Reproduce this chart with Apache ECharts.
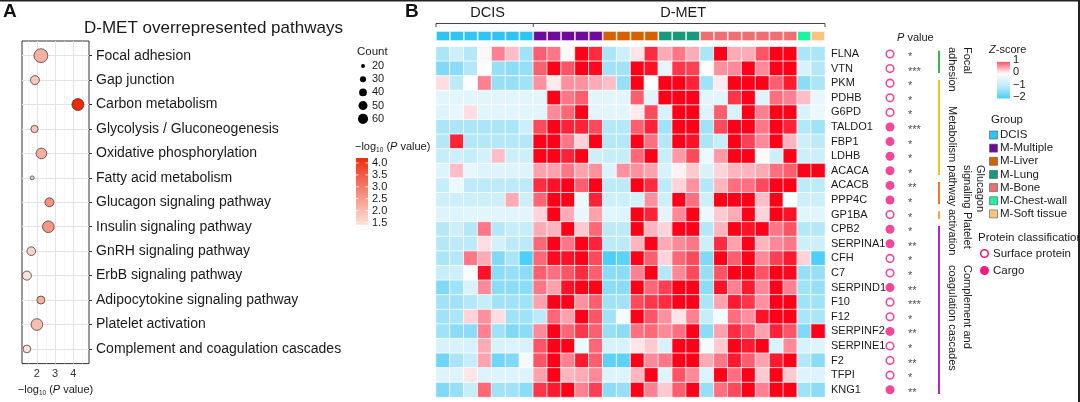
<!DOCTYPE html>
<html><head><meta charset="utf-8">
<script src="https://cdn.jsdelivr.net/npm/echarts@6/dist/echarts.min.js"></script>
<style>html,body{margin:0;padding:0;background:#fff}#c{width:1080px;height:402px}</style>
</head><body><div id="c"></div>
<script>
// ---------- Panel A data ----------
const pathways = ['Focal adhesion','Gap junction','Carbon metabolism','Glycolysis / Gluconeogenesis','Oxidative phosphorylation','Fatty acid metabolism','Glucagon signaling pathway','Insulin signaling pathway','GnRH signaling pathway','ErbB signaling pathway','Adipocytokine signaling pathway','Platelet activation','Complement and coagulation cascades'];
const pathLogP = [2.22,1.89,4.26,1.87,2.25,1.74,2.69,2.63,1.69,1.45,2.22,2.0,1.45];
const pathCount = [100,50,78,37,65,20,50,75,47,50,42,75,40];
const countBreaks = [20,30,40,50,60];
const logPBreaks = [4.0,3.5,3.0,2.5,2.0,1.5];
const xTicksA = [2,3,4];
const xGridMajor = [2,3,4];
const xGridMinor = [1.5,2.5,3.5,4.5];

// ---------- Panel B data ----------
const genes = ['FLNA','VTN','PKM','PDHB','G6PD','TALDO1','FBP1','LDHB','ACACA','ACACB','PPP4C','GP1BA','CPB2','SERPINA1','CFH','C7','SERPIND1','F10','F12','SERPINF2','SERPINE1','F2','TFPI','KNG1'];
const groupNames = ['DCIS','M-Multiple','M-Liver','M-Lung','M-Bone','M-Chest-wall','M-Soft tissue'];
const groupColors = ['#2EC4F5','#6E0A9C','#D66100','#18997A','#EF6E71','#1FF2A2','#FDC27D'];
const groupSizes = [7,5,4,3,7,1,1];
const proteinClass = ['S','S','S','S','S','C','C','C','C','C','C','S','C','C','S','S','C','S','S','C','S','S','S','C'];
const pStars = ['*','***','*','*','*','***','*','*','*','**','*','*','*','**','*','*','**','***','*','**','*','**','*','**'];
const zTicks = [1,0,-1,-2];
const annotNames = [['Focal','adhesion'],['Metabolism pathway'],['Glucagon','signaling'],['Platelet','activation'],['Complement and','coagulation cascades']];
const annotStart = [0,2,9,11,12];
const annotEnd = [1,8,10,11,23];
const annotColors = ['#3DB54A','#F6C21B','#F07A29','#F7A04A','#A52BC4'];
const zRows = [
 [-1.3,-0.9,-1.2,-0.1,0.6,0.25,-1.4, 0.8,0.65,-0.1,1.3,1.05, -1.3,-0.9,0.05,1.05, 0.35,0.65,0.35, -1.3,1.3,0.35,0.35,0.85,1.3,1.3, -1.3,-1.3],
 [-1.7,-1.6,-1.2,-0.15,-1.5,-1.6,-1.5, 0.8,1.3,0.85,1.3,1.25, -1.4,-1.4,1.3,1.2, -0.5,1.0,0.95, -0.15,0.5,0.55,1.3,0.55,1.3,1.3, -0.7,-1.2],
 [0.1,-1.1,-0.2,0.6,-1.5,-1.5,-1.4, 0.5,0.0,0.5,0.5,0.35, 0.25,-1.5,1.3,-0.2, 1.3,1.3,1.1, -1.4,0.0,1.3,1.3,1.3,0.8,1.15, -1.6,-1.3],
 [-0.5,-0.5,-0.5,-0.5,-0.5,-0.5,-0.5, -0.5,1.3,0.65,0.8,-0.5, -0.5,-0.5,0.8,-0.5, 1.3,1.3,1.3, -0.55,-0.5,1.0,1.3,-0.6,0.7,0.6, 0.25,-0.45],
 [-0.6,-0.45,0.1,-0.55,-0.5,-0.5,-0.55, -0.55,0.55,0.75,1.3,-0.5, -0.5,-0.5,0.0,0.9, -0.7,1.3,1.3, -0.6,0.8,-0.75,1.3,0.6,1.3,1.3, -0.7,-0.4],
 [-1.3,-1.3,-1.3,-1.3,-1.3,-1.3,-0.9, 0.9,1.3,1.1,1.1,0.9, -1.2,-1.2,0.8,1.1, -1.4,1.3,1.3, -1.4,0.9,1.3,1.3,0.65,1.3,1.1, -1.2,-1.4],
 [-1.2,1.1,-1.2,-1.2,-1.2,-1.2,-1.2, 1.3,1.3,0.65,0.15,1.3, -1.2,-1.2,1.3,0.7, -1.2,1.3,1.2, -1.3,-1.0,1.3,0.95,0.55,1.3,0.3, -0.9,-1.1],
 [-1.0,-0.9,-1.0,-0.8,0.25,-0.9,-0.9, 1.3,1.3,1.1,1.3,-0.9, -1.0,-1.0,0.75,1.3, -1.0,0.45,0.9, -0.4,0.45,1.3,1.3,-0.1,-0.9,1.3, -0.9,-0.9],
 [-0.6,0.25,-0.45,-0.6,-0.6,-0.6,-0.6, 0.4,0.4,0.65,0.4,0.5, -0.6,0.5,0.5,0.4, -0.7,-0.05,0.2, -0.7,0.15,0.3,0.3,0.35,0.7,0.8, 1.3,1.3],
 [-1.0,-0.4,-1.1,-1.1,-1.1,-1.1,-1.1, 1.05,1.2,1.3,0.8,1.3, -1.1,-1.1,1.3,1.05, -1.1,0.15,0.5, -1.2,0.3,0.7,0.7,0.9,1.3,1.3, -1.1,-1.1],
 [-0.9,-0.9,-0.9,-0.9,-0.9,0.35,-0.9, 0.75,1.3,1.3,-0.4,1.1, -0.9,-0.9,-0.8,0.5, -0.9,1.3,0.7, -0.9,1.3,1.3,1.3,0.25,1.3,-0.2, -0.9,-0.9],
 [-0.6,-0.6,-0.55,-0.55,-0.55,-0.55,-0.5, 0.15,1.3,0.35,-0.45,0.4, -0.55,-0.6,1.3,1.1, -0.5,0.55,1.3, -0.4,0.2,0.35,1.3,0.15,1.3,1.2, -0.55,-0.55],
 [-1.2,-0.9,-1.2,0.65,-1.2,-1.0,-1.0, 0.35,0.3,1.3,0.2,0.75, -1.1,-1.1,1.3,0.3, 0.15,1.3,1.3, -1.2,0.3,1.3,1.2,1.3,0.65,0.85, -1.2,-1.2],
 [-1.2,-1.1,-1.1,0.1,-0.8,-1.1,-1.1, 0.75,1.3,0.65,1.3,1.1, -1.1,-1.1,0.3,1.3, 0.35,0.55,0.65, -0.9,1.05,0.4,1.3,0.3,0.55,0.65, -0.9,-0.9],
 [-1.3,-1.2,0.65,0.35,-1.7,-1.3,-2.1, 0.75,1.25,1.2,1.3,0.9, -2.0,-1.9,1.3,0.8, 0.15,0.75,0.9, -1.7,1.3,0.8,1.3,0.55,0.95,1.15, 0.15,-2.0],
 [-1.0,-0.9,-0.2,1.2,-1.6,-1.5,-1.6, 0.8,0.7,0.85,1.05,0.8, -1.6,-1.6,0.6,1.3, -1.2,0.55,0.9, -1.5,0.85,1.3,1.3,0.85,1.3,1.25, -1.5,-1.5],
 [-1.7,-1.4,-0.7,0.55,-1.6,-1.6,-1.6, 0.65,0.4,1.2,1.3,1.3, -1.6,-1.6,1.3,0.75, 0.95,1.3,1.3, -1.6,1.2,0.6,1.15,0.55,1.3,0.6, -1.4,-1.5],
 [-1.4,-1.4,-1.2,-1.0,-1.4,-1.4,-1.4, 0.4,1.3,1.3,0.5,0.8, -1.4,-1.4,0.9,1.0, 1.05,1.3,1.3, -1.3,0.4,1.15,1.0,0.5,1.3,1.3, -1.4,-1.4],
 [-1.4,-1.3,0.15,0.5,0.1,-1.4,-1.4, -1.1,0.75,0.4,1.3,0.85, -1.4,-0.3,1.3,0.85, 0.5,0.05,0.6, -1.0,-0.3,0.7,0.5,1.2,1.3,1.3, -1.3,-1.3],
 [-1.4,-1.6,-1.6,0.6,-1.4,-1.7,-1.6, 0.55,1.3,0.75,1.0,0.8, -1.5,-1.6,0.7,0.75, 0.55,0.7,1.3, -1.6,0.4,1.05,0.85,0.4,1.1,0.85, -1.7,1.3],
 [-0.7,-0.7,-0.7,0.35,-0.7,-0.65,-0.7, 0.85,1.3,1.3,-0.4,0.75, -0.7,-0.7,0.05,0.2, -0.7,1.3,1.3, -0.3,0.2,1.3,1.15,1.3,-0.65,0.55, -0.7,-0.6],
 [-1.8,-1.3,-1.0,0.4,-1.8,-1.7,-0.3, 0.85,1.3,0.6,1.15,0.8, -1.9,-1.9,1.3,0.55, 0.65,1.3,1.3, 0.35,0.65,1.15,0.8,0.4,1.15,1.3, -1.2,-1.6],
 [-0.6,-0.6,0.05,-0.65,-0.6,-0.6,-0.6, 0.4,1.3,0.3,0.35,0.55, -0.6,-0.6,0.3,1.3, -0.6,0.85,0.55, -0.65,1.3,0.7,1.3,0.2,1.3,0.2, -0.6,-0.6],
 [-1.7,-1.5,-1.0,0.75,-1.4,-1.4,-1.6, 1.0,1.15,1.3,0.6,0.95, -1.6,-1.5,1.3,0.6, 0.2,0.8,1.3, -1.5,0.7,0.9,1.3,0.6,1.3,1.3, -1.4,-1.6]
];

// ---------- helpers ----------
const FF = '"Liberation Sans", Arial, Helvetica, sans-serif';
const TXT = '#1a1a1a';
const zStops = [[-2,'#4CCFF8'],[-1.7,'#80D9F6'],[-1.3,'#ABE5F8'],[-0.9,'#CDEFFA'],[-0.5,'#E3F5FC'],[-0.15,'#FFFFFF'],[0.1,'#FFDDE2'],[0.35,'#FFAAB5'],[0.6,'#FF8090'],[0.85,'#FF5566'],[1.05,'#FF2A40'],[1.3,'#FF0018']];
function hex2rgb(h){return [parseInt(h.substr(1,2),16),parseInt(h.substr(3,2),16),parseInt(h.substr(5,2),16)];}
function rgb2hex(a){return '#'+a.map(v=>Math.round(v).toString(16).padStart(2,'0')).join('');}
function mix(c1,c2,t){const a=hex2rgb(c1),b=hex2rgb(c2);return rgb2hex(a.map((v,i)=>v+(b[i]-v)*t));}
function zColor(v){
  if(v<=zStops[0][0]) return zStops[0][1];
  for(let i=1;i<zStops.length;i++){ if(v<=zStops[i][0]){const t=(v-zStops[i-1][0])/(zStops[i][0]-zStops[i-1][0]);return mix(zStops[i-1][1],zStops[i][1],t);} }
  return zStops[zStops.length-1][1];
}
const zMin=-2, zMax=1.3;
const zPalette=[]; for(let k=0;k<=33;k++){zPalette.push(zColor(zMin+k*0.1));}
const aLow='#FDE2DA', aHigh='#EE2A0A', aMin=1.45, aMax=4.26;
function aColor(v){return mix(aLow,aHigh,Math.max(0,Math.min(1,(v-aMin)/(aMax-aMin))));}
function sizeFn(c){return Math.sqrt(2.2*(c-13));}

const samples=[]; const sampleGroups=[];
groupSizes.forEach((n,g)=>{for(let i=0;i<n;i++){samples.push('S'+(samples.length+1));sampleGroups.push(g);}});

// layout constants
const hmLeft=436, hmTop=46.7, hmW=389, rowH=14.6, hmH=rowH*genes.length;
const colW=hmW/samples.length;

const heatData=[];
zRows.forEach((row,r)=>row.forEach((v,c)=>heatData.push([c,r,v])));

function T(x,y,text,o){o=o||{};return {type:'text',x:x,y:y,rotation:o.rot||0,z:10,style:Object.assign({text:text,fill:TXT,fontSize:11,fontFamily:FF,align:'left',verticalAlign:'middle'},o.style||{})};}

const graphic=[];
graphic.push({type:'rect',shape:{x:0,y:0,width:1080,height:1.5},style:{fill:'#222'}});
graphic.push({type:'rect',shape:{x:1078,y:0,width:2,height:402},style:{fill:'#222'}});
graphic.push(T(3,12,'A',{style:{fontSize:19,fontWeight:'bold',fill:'#111'}}));
graphic.push(T(405,12,'B',{style:{fontSize:19,fontWeight:'bold',fill:'#111'}}));
graphic.push(T(84,28,'D-MET overrepresented pathways',{style:{fontSize:17}}));
// Count legend
graphic.push(T(357,52,'Count',{style:{fontSize:11.5}}));
countBreaks.forEach((c,i)=>{
  const y=66+i*13.2;
  graphic.push({type:'circle',shape:{cx:363,cy:y,r:sizeFn(c)/2},style:{fill:'#000'}});
  graphic.push(T(372,y,String(c),{style:{fontSize:11}}));
});
// -log10 P legend
const richA={n:{fontSize:11,fontFamily:FF,fill:TXT,lineHeight:14,verticalAlign:'middle'},s:{fontSize:6.5,fontFamily:FF,fill:TXT,lineHeight:8,verticalAlign:'bottom'},i:{fontSize:11,fontFamily:FF,fontStyle:'italic',fill:TXT,lineHeight:14,verticalAlign:'middle'}};
graphic.push({type:'text',x:355,y:147,z:10,style:{text:'{n|\u2212log}{s|10}{n| (}{i|P}{n| value)}',rich:richA,align:'left',verticalAlign:'middle'}});
const barTopV=4.21, barBotV=1.4, barTopY=158, pxPerUnit=23.8;
graphic.push({type:'rect',shape:{x:356,y:barTopY,width:12,height:(barTopV-barBotV)*pxPerUnit},style:{fill:new echarts.graphic.LinearGradient(0,0,0,1,[{offset:0,color:aColor(barTopV)},{offset:1,color:aColor(barBotV)}])}});
logPBreaks.forEach(v=>{
  const y=barTopY+(barTopV-v)*pxPerUnit;
  graphic.push({type:'line',shape:{x1:356,y1:y,x2:358.5,y2:y},style:{stroke:'#fff',lineWidth:0.8}});
  graphic.push({type:'line',shape:{x1:365.5,y1:y,x2:368,y2:y},style:{stroke:'#fff',lineWidth:0.8}});
  graphic.push(T(372,y,v.toFixed(1),{style:{fontSize:11}}));
});
// bracket DCIS / D-MET
const split=hmLeft+groupSizes[0]*colW, right=hmLeft+hmW;
graphic.push({type:'polyline',shape:{points:[[hmLeft,27],[hmLeft,23.5],[right,23.5],[right,27]]},style:{stroke:'#444',lineWidth:1,fill:null}});
graphic.push({type:'line',shape:{x1:split,y1:23.5,x2:split,y2:27},style:{stroke:'#444',lineWidth:1}});
graphic.push(T((hmLeft+split)/2+3,12.5,'DCIS',{style:{fontSize:14.5,align:'center'}}));
graphic.push(T((split+right)/2+4,12.5,'D-MET',{style:{fontSize:14.5,align:'center'}}));
// P value header
graphic.push({type:'text',x:897,y:38,z:10,style:{text:'{i|P}{n| value}',rich:richA,align:'left',verticalAlign:'middle'}});
// pathway annotation
const annotTextPos=[[[967,47],[952,47]],[[952,106]],[[980,165],[967,165]],[[967,212],[952,209]],[[967,265],[952,265]]];
annotNames.forEach((lines,k)=>{
  const y1=hmTop+annotStart[k]*rowH+4, y2=hmTop+(annotEnd[k]+1)*rowH-3;
  graphic.push({type:'line',shape:{x1:939,y1:y1,x2:939,y2:y2},style:{stroke:annotColors[k],lineWidth:2}});
  lines.forEach((t,j)=>{const p=annotTextPos[k][j];graphic.push(T(p[0],p[1],t,{rot:-Math.PI/2,style:{fontSize:11}}));});
});
// Z-score legend
graphic.push({type:'text',x:989,y:50,z:10,style:{text:'{i|Z}{n|-score}',rich:richA,align:'left',verticalAlign:'middle'}});
const zY=v=>60+(1-v)*12.4;
const zTopV=0.85, zBotV=-2.1, zStopsG=[];
for(let k=0;k<=12;k++){const v=zTopV+(zBotV-zTopV)*k/12;zStopsG.push({offset:k/12,color:zColor(v)});}
graphic.push({type:'rect',shape:{x:997,y:zY(zTopV),width:13,height:zY(zBotV)-zY(zTopV)},style:{fill:new echarts.graphic.LinearGradient(0,0,0,1,zStopsG)}});
zTicks.forEach(v=>graphic.push(T(1013,zY(v),v<0?'\u2212'+Math.abs(v):String(v),{style:{fontSize:11}})));
// Group legend
graphic.push(T(991,120,'Group',{style:{fontSize:11.5}}));
groupNames.forEach((g,i)=>{
  const y=135+i*13.15;
  graphic.push({type:'rect',shape:{x:989.5,y:y-4,width:8,height:8},style:{fill:groupColors[i],stroke:'#555',lineWidth:0.6}});
  graphic.push(T(1000,y,g,{style:{fontSize:11.5}}));
});
// Protein classification legend
graphic.push(T(978,238,'Protein classification',{style:{fontSize:11.5}}));
graphic.push({type:'circle',shape:{cx:984.5,cy:253.5,r:3.8},style:{fill:'#fff',stroke:'#F2197F',lineWidth:1.6}});
graphic.push(T(993,253.5,'Surface protein',{style:{fontSize:11.5}}));
graphic.push({type:'circle',shape:{cx:984.5,cy:270.5,r:4.5},style:{fill:'#F2197F'}});
graphic.push(T(993,270.5,'Cargo',{style:{fontSize:11.5}}));

const idxA=pathways.map((_,i)=>i);
const markData=[].concat(
  xGridMinor.map(x=>({xAxis:x,lineStyle:{color:'#F1F1F1',width:0.6,type:'solid'}})),
  xGridMajor.map(x=>({xAxis:x,lineStyle:{color:'#E4E4E4',width:1,type:'solid'}})),
  idxA.map(i=>({yAxis:i,lineStyle:{color:'#E4E4E4',width:1,type:'solid'}}))
);

const option={
  animation:false,
  backgroundColor:'#fff',
  textStyle:{fontFamily:FF},
  grid:[
    {left:22,top:41,width:67,height:323,show:true,borderColor:'#333',borderWidth:1,backgroundColor:'#fff'},
    {left:hmLeft,top:hmTop,width:hmW,height:hmH},
    {left:hmLeft,top:31,width:hmW,height:10},
    {left:880,top:hmTop,width:40,height:hmH}
  ],
  xAxis:[
    {gridIndex:0,type:'value',min:1.18,max:4.87,axisLine:{show:false},splitLine:{show:false},
     axisTick:{show:true,customValues:xTicksA,length:3,lineStyle:{color:'#333'}},
     axisLabel:{customValues:xTicksA,fontSize:11,color:'#333',margin:5,fontFamily:FF},
     name:'{n|\u2212log}{s|10}{n| (}{i|P}{n| value)}',nameLocation:'middle',nameGap:19,
     nameTextStyle:{rich:{n:{fontSize:11,fontFamily:FF,color:TXT,lineHeight:14,verticalAlign:'middle'},s:{fontSize:6.5,fontFamily:FF,color:TXT,lineHeight:8,verticalAlign:'bottom'},i:{fontSize:11,fontFamily:FF,fontStyle:'italic',color:TXT,lineHeight:14,verticalAlign:'middle'}}}},
    {gridIndex:1,type:'category',data:samples,show:false},
    {gridIndex:2,type:'category',data:samples,show:false},
    {gridIndex:3,type:'category',data:['cls','p'],show:false}
  ],
  yAxis:[
    {gridIndex:0,type:'value',inverse:true,min:-0.6,max:12.6,position:'right',axisLine:{show:false},splitLine:{show:false},
     axisTick:{show:true,customValues:idxA,length:3,lineStyle:{color:'#333'}},
     axisLabel:{customValues:idxA,formatter:v=>pathways[Math.round(v)],fontSize:14,color:TXT,margin:7,fontFamily:FF}},
    {gridIndex:1,type:'category',data:genes,inverse:true,position:'right',axisLine:{show:false},axisTick:{show:false},
     axisLabel:{fontSize:11,color:TXT,margin:6,fontFamily:FF}},
    {gridIndex:2,type:'value',min:0,max:1,show:false},
    {gridIndex:3,type:'category',data:genes,inverse:true,show:false}
  ],
  visualMap:[
    {type:'continuous',show:false,seriesIndex:0,dimension:0,min:aMin,max:aMax,inRange:{color:[aLow,aHigh]}},
    {type:'continuous',show:false,seriesIndex:1,dimension:2,min:zMin,max:zMax,inRange:{color:zPalette}}
  ],
  series:[
    {type:'scatter',xAxisIndex:0,yAxisIndex:0,z:3,
     data:pathLogP.map((v,i)=>[v,i,pathCount[i]]),
     symbolSize:d=>sizeFn(d[2]),
     itemStyle:{borderColor:'#2a2a2a',borderWidth:0.7,opacity:1},
     markLine:{silent:true,z:1,symbol:['none','none'],label:{show:false},animation:false,lineStyle:{type:'solid'},data:markData}},
    {type:'heatmap',xAxisIndex:1,yAxisIndex:1,data:heatData,
     itemStyle:{borderColor:'rgba(255,255,255,0.75)',borderWidth:1}},
    {type:'bar',xAxisIndex:2,yAxisIndex:2,barCategoryGap:'0%',silent:true,
     data:sampleGroups.map(g=>({value:1,itemStyle:{color:groupColors[g]}})),
     itemStyle:{borderColor:'rgba(255,255,255,0.7)',borderWidth:0.8}},
    {type:'scatter',xAxisIndex:3,yAxisIndex:3,
     data:genes.map((g,i)=>proteinClass[i]==='C'
       ?{value:['cls',g],symbolSize:9,itemStyle:{color:'#F2197F',borderWidth:0}}
       :{value:['cls',g],symbolSize:7.6,itemStyle:{color:'#fff',borderColor:'#F2197F',borderWidth:1.6}})},
    {type:'scatter',xAxisIndex:3,yAxisIndex:3,symbolSize:0,
     data:genes.map((g,i)=>({value:['p',g],label:{show:true,formatter:pStars[i]}})),
     label:{position:'right',distance:-2,offset:[0,3],fontSize:11,color:TXT,fontFamily:FF}}
  ],
  graphic:graphic
};
const chart=echarts.init(document.getElementById('c'),null,{renderer:'canvas'});
chart.setOption(option);
</script>
</body></html>
